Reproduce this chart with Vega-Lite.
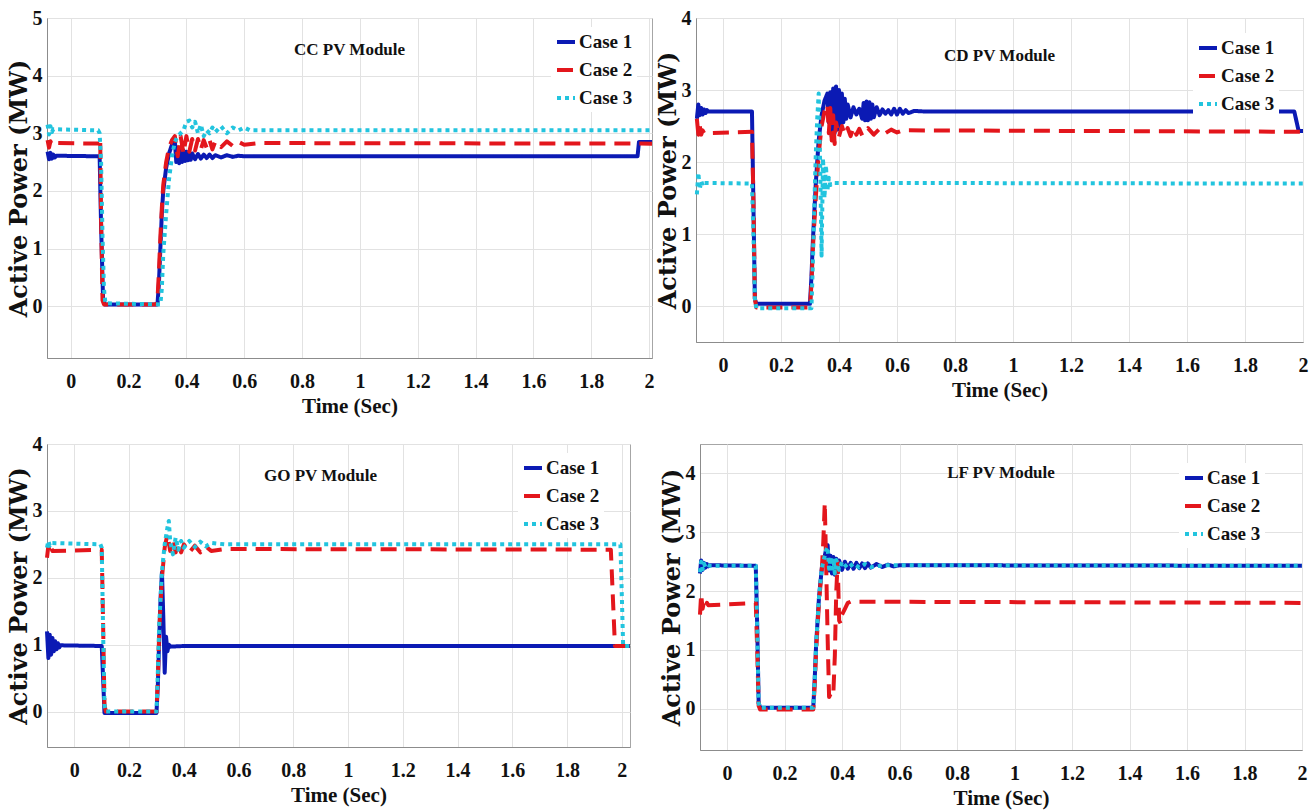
{
  "$schema": "https://vega.github.io/schema/vega-lite/v6.json",
  "padding": {"left": 6, "top": 7, "right": 4, "bottom": 2},
  "background": "white",
  "datasets": {
    "cc": [
      {"t":-0.08,"p":2.68,"c":"Case 1"},{"t":-0.075,"p":2.55,"c":"Case 1"},{"t":-0.07,"p":2.66,"c":"Case 1"},{"t":-0.065,"p":2.56,"c":"Case 1"},{"t":-0.06,"p":2.63,"c":"Case 1"},{"t":-0.055,"p":2.58,"c":"Case 1"},{"t":-0.05,"p":2.61,"c":"Case 1"},{"t":0.1,"p":2.6,"c":"Case 1"},{"t":0.105,"p":1.4,"c":"Case 1"},{"t":0.112,"p":0.1,"c":"Case 1"},{"t":0.118,"p":0.03,"c":"Case 1"},{"t":0.3,"p":0.03,"c":"Case 1"},{"t":0.305,"p":0.4,"c":"Case 1"},{"t":0.31,"p":1.0,"c":"Case 1"},{"t":0.315,"p":1.6,"c":"Case 1"},{"t":0.32,"p":2.0,"c":"Case 1"},{"t":0.33,"p":2.4,"c":"Case 1"},{"t":0.34,"p":2.65,"c":"Case 1"},{"t":0.35,"p":2.8,"c":"Case 1"},{"t":0.36,"p":2.88,"c":"Case 1"},{"t":0.365,"p":2.5,"c":"Case 1"},{"t":0.37,"p":2.75,"c":"Case 1"},{"t":0.375,"p":2.48,"c":"Case 1"},{"t":0.38,"p":2.72,"c":"Case 1"},{"t":0.385,"p":2.5,"c":"Case 1"},{"t":0.39,"p":2.7,"c":"Case 1"},{"t":0.395,"p":2.52,"c":"Case 1"},{"t":0.4,"p":2.68,"c":"Case 1"},{"t":0.405,"p":2.53,"c":"Case 1"},{"t":0.41,"p":2.66,"c":"Case 1"},{"t":0.415,"p":2.54,"c":"Case 1"},{"t":0.42,"p":2.65,"c":"Case 1"},{"t":0.43,"p":2.55,"c":"Case 1"},{"t":0.44,"p":2.64,"c":"Case 1"},{"t":0.45,"p":2.56,"c":"Case 1"},{"t":0.46,"p":2.63,"c":"Case 1"},{"t":0.47,"p":2.57,"c":"Case 1"},{"t":0.48,"p":2.63,"c":"Case 1"},{"t":0.49,"p":2.57,"c":"Case 1"},{"t":0.5,"p":2.62,"c":"Case 1"},{"t":0.52,"p":2.58,"c":"Case 1"},{"t":0.54,"p":2.62,"c":"Case 1"},{"t":0.56,"p":2.59,"c":"Case 1"},{"t":0.58,"p":2.61,"c":"Case 1"},{"t":0.6,"p":2.6,"c":"Case 1"},{"t":1.96,"p":2.6,"c":"Case 1"},{"t":1.965,"p":2.85,"c":"Case 1"},{"t":2.01,"p":2.85,"c":"Case 1"},
      {"t":-0.08,"p":2.88,"c":"Case 2"},{"t":-0.075,"p":2.75,"c":"Case 2"},{"t":-0.07,"p":2.86,"c":"Case 2"},{"t":-0.065,"p":2.8,"c":"Case 2"},{"t":-0.06,"p":2.83,"c":"Case 2"},{"t":0.1,"p":2.82,"c":"Case 2"},{"t":0.102,"p":2.9,"c":"Case 2"},{"t":0.105,"p":1.5,"c":"Case 2"},{"t":0.11,"p":0.1,"c":"Case 2"},{"t":0.115,"p":0.03,"c":"Case 2"},{"t":0.295,"p":0.03,"c":"Case 2"},{"t":0.3,"p":0.1,"c":"Case 2"},{"t":0.305,"p":0.6,"c":"Case 2"},{"t":0.31,"p":1.2,"c":"Case 2"},{"t":0.315,"p":1.7,"c":"Case 2"},{"t":0.32,"p":2.1,"c":"Case 2"},{"t":0.33,"p":2.5,"c":"Case 2"},{"t":0.34,"p":2.75,"c":"Case 2"},{"t":0.35,"p":2.88,"c":"Case 2"},{"t":0.36,"p":2.95,"c":"Case 2"},{"t":0.37,"p":2.6,"c":"Case 2"},{"t":0.38,"p":2.95,"c":"Case 2"},{"t":0.39,"p":2.65,"c":"Case 2"},{"t":0.4,"p":2.95,"c":"Case 2"},{"t":0.41,"p":2.68,"c":"Case 2"},{"t":0.42,"p":2.9,"c":"Case 2"},{"t":0.43,"p":2.7,"c":"Case 2"},{"t":0.44,"p":2.9,"c":"Case 2"},{"t":0.45,"p":2.72,"c":"Case 2"},{"t":0.46,"p":2.88,"c":"Case 2"},{"t":0.47,"p":2.75,"c":"Case 2"},{"t":0.48,"p":2.88,"c":"Case 2"},{"t":0.49,"p":2.72,"c":"Case 2"},{"t":0.5,"p":2.86,"c":"Case 2"},{"t":0.52,"p":2.76,"c":"Case 2"},{"t":0.54,"p":2.86,"c":"Case 2"},{"t":0.56,"p":2.78,"c":"Case 2"},{"t":0.58,"p":2.85,"c":"Case 2"},{"t":0.6,"p":2.8,"c":"Case 2"},{"t":0.65,"p":2.83,"c":"Case 2"},{"t":2.01,"p":2.82,"c":"Case 2"},
      {"t":-0.08,"p":3.15,"c":"Case 3"},{"t":-0.075,"p":2.98,"c":"Case 3"},{"t":-0.07,"p":3.12,"c":"Case 3"},{"t":-0.065,"p":3.02,"c":"Case 3"},{"t":-0.06,"p":3.07,"c":"Case 3"},{"t":0.095,"p":3.05,"c":"Case 3"},{"t":0.1,"p":3.0,"c":"Case 3"},{"t":0.105,"p":2.5,"c":"Case 3"},{"t":0.11,"p":1.2,"c":"Case 3"},{"t":0.115,"p":0.3,"c":"Case 3"},{"t":0.12,"p":0.05,"c":"Case 3"},{"t":0.31,"p":0.03,"c":"Case 3"},{"t":0.315,"p":0.3,"c":"Case 3"},{"t":0.32,"p":0.9,"c":"Case 3"},{"t":0.33,"p":1.6,"c":"Case 3"},{"t":0.34,"p":2.2,"c":"Case 3"},{"t":0.35,"p":2.6,"c":"Case 3"},{"t":0.36,"p":2.85,"c":"Case 3"},{"t":0.37,"p":2.95,"c":"Case 3"},{"t":0.38,"p":3.0,"c":"Case 3"},{"t":0.39,"p":3.05,"c":"Case 3"},{"t":0.4,"p":3.2,"c":"Case 3"},{"t":0.41,"p":3.22,"c":"Case 3"},{"t":0.42,"p":3.1,"c":"Case 3"},{"t":0.43,"p":3.2,"c":"Case 3"},{"t":0.44,"p":3.0,"c":"Case 3"},{"t":0.45,"p":3.15,"c":"Case 3"},{"t":0.46,"p":2.95,"c":"Case 3"},{"t":0.47,"p":3.05,"c":"Case 3"},{"t":0.48,"p":3.0,"c":"Case 3"},{"t":0.49,"p":3.1,"c":"Case 3"},{"t":0.5,"p":3.02,"c":"Case 3"},{"t":0.52,"p":3.12,"c":"Case 3"},{"t":0.54,"p":3.0,"c":"Case 3"},{"t":0.56,"p":3.1,"c":"Case 3"},{"t":0.58,"p":3.05,"c":"Case 3"},{"t":0.6,"p":3.1,"c":"Case 3"},{"t":0.62,"p":3.05,"c":"Case 3"},{"t":2.01,"p":3.05,"c":"Case 3"}
    ],
    "cd": [
      {"t":-0.09,"p":2.6,"c":"Case 1"},{"t":-0.085,"p":2.8,"c":"Case 1"},{"t":-0.08,"p":2.65,"c":"Case 1"},{"t":-0.075,"p":2.75,"c":"Case 1"},{"t":-0.07,"p":2.66,"c":"Case 1"},{"t":-0.065,"p":2.73,"c":"Case 1"},{"t":-0.06,"p":2.68,"c":"Case 1"},{"t":-0.055,"p":2.72,"c":"Case 1"},{"t":-0.05,"p":2.7,"c":"Case 1"},{"t":0.1,"p":2.7,"c":"Case 1"},{"t":0.105,"p":1.4,"c":"Case 1"},{"t":0.11,"p":0.1,"c":"Case 1"},{"t":0.115,"p":0.03,"c":"Case 1"},{"t":0.3,"p":0.03,"c":"Case 1"},{"t":0.305,"p":0.4,"c":"Case 1"},{"t":0.31,"p":0.9,"c":"Case 1"},{"t":0.32,"p":1.7,"c":"Case 1"},{"t":0.33,"p":2.3,"c":"Case 1"},{"t":0.34,"p":2.65,"c":"Case 1"},{"t":0.35,"p":2.85,"c":"Case 1"},{"t":0.36,"p":2.95,"c":"Case 1"},{"t":0.365,"p":2.55,"c":"Case 1"},{"t":0.37,"p":2.97,"c":"Case 1"},{"t":0.375,"p":2.35,"c":"Case 1"},{"t":0.38,"p":3.02,"c":"Case 1"},{"t":0.385,"p":2.4,"c":"Case 1"},{"t":0.39,"p":3.05,"c":"Case 1"},{"t":0.395,"p":2.45,"c":"Case 1"},{"t":0.4,"p":3.0,"c":"Case 1"},{"t":0.405,"p":2.5,"c":"Case 1"},{"t":0.41,"p":2.95,"c":"Case 1"},{"t":0.415,"p":2.55,"c":"Case 1"},{"t":0.42,"p":2.88,"c":"Case 1"},{"t":0.425,"p":2.6,"c":"Case 1"},{"t":0.43,"p":2.8,"c":"Case 1"},{"t":0.44,"p":2.62,"c":"Case 1"},{"t":0.45,"p":2.76,"c":"Case 1"},{"t":0.46,"p":2.66,"c":"Case 1"},{"t":0.47,"p":2.74,"c":"Case 1"},{"t":0.48,"p":2.6,"c":"Case 1"},{"t":0.485,"p":2.82,"c":"Case 1"},{"t":0.49,"p":2.58,"c":"Case 1"},{"t":0.495,"p":2.84,"c":"Case 1"},{"t":0.5,"p":2.58,"c":"Case 1"},{"t":0.505,"p":2.83,"c":"Case 1"},{"t":0.51,"p":2.6,"c":"Case 1"},{"t":0.515,"p":2.8,"c":"Case 1"},{"t":0.52,"p":2.62,"c":"Case 1"},{"t":0.53,"p":2.76,"c":"Case 1"},{"t":0.54,"p":2.65,"c":"Case 1"},{"t":0.55,"p":2.73,"c":"Case 1"},{"t":0.56,"p":2.67,"c":"Case 1"},{"t":0.57,"p":2.72,"c":"Case 1"},{"t":0.58,"p":2.66,"c":"Case 1"},{"t":0.59,"p":2.74,"c":"Case 1"},{"t":0.6,"p":2.66,"c":"Case 1"},{"t":0.61,"p":2.74,"c":"Case 1"},{"t":0.62,"p":2.67,"c":"Case 1"},{"t":0.63,"p":2.72,"c":"Case 1"},{"t":0.64,"p":2.68,"c":"Case 1"},{"t":0.66,"p":2.71,"c":"Case 1"},{"t":0.7,"p":2.7,"c":"Case 1"},{"t":1.97,"p":2.7,"c":"Case 1"},{"t":1.985,"p":2.43,"c":"Case 1"},{"t":2.0,"p":2.43,"c":"Case 1"},
      {"t":-0.09,"p":2.6,"c":"Case 2"},{"t":-0.085,"p":2.38,"c":"Case 2"},{"t":-0.08,"p":2.5,"c":"Case 2"},{"t":-0.075,"p":2.38,"c":"Case 2"},{"t":-0.07,"p":2.44,"c":"Case 2"},{"t":-0.065,"p":2.4,"c":"Case 2"},{"t":0.1,"p":2.42,"c":"Case 2"},{"t":0.105,"p":1.5,"c":"Case 2"},{"t":0.11,"p":0.1,"c":"Case 2"},{"t":0.115,"p":-0.02,"c":"Case 2"},{"t":0.3,"p":-0.02,"c":"Case 2"},{"t":0.305,"p":0.3,"c":"Case 2"},{"t":0.31,"p":0.8,"c":"Case 2"},{"t":0.32,"p":1.5,"c":"Case 2"},{"t":0.33,"p":2.1,"c":"Case 2"},{"t":0.34,"p":2.5,"c":"Case 2"},{"t":0.35,"p":2.7,"c":"Case 2"},{"t":0.36,"p":2.8,"c":"Case 2"},{"t":0.365,"p":2.4,"c":"Case 2"},{"t":0.37,"p":2.75,"c":"Case 2"},{"t":0.375,"p":2.3,"c":"Case 2"},{"t":0.38,"p":2.65,"c":"Case 2"},{"t":0.385,"p":2.25,"c":"Case 2"},{"t":0.39,"p":2.55,"c":"Case 2"},{"t":0.4,"p":2.35,"c":"Case 2"},{"t":0.41,"p":2.5,"c":"Case 2"},{"t":0.42,"p":2.38,"c":"Case 2"},{"t":0.43,"p":2.47,"c":"Case 2"},{"t":0.44,"p":2.36,"c":"Case 2"},{"t":0.45,"p":2.48,"c":"Case 2"},{"t":0.46,"p":2.38,"c":"Case 2"},{"t":0.47,"p":2.46,"c":"Case 2"},{"t":0.48,"p":2.37,"c":"Case 2"},{"t":0.5,"p":2.47,"c":"Case 2"},{"t":0.52,"p":2.38,"c":"Case 2"},{"t":0.54,"p":2.46,"c":"Case 2"},{"t":0.56,"p":2.4,"c":"Case 2"},{"t":0.58,"p":2.45,"c":"Case 2"},{"t":0.6,"p":2.41,"c":"Case 2"},{"t":0.62,"p":2.44,"c":"Case 2"},{"t":2.0,"p":2.42,"c":"Case 2"},
      {"t":-0.09,"p":1.55,"c":"Case 3"},{"t":-0.085,"p":1.85,"c":"Case 3"},{"t":-0.08,"p":1.62,"c":"Case 3"},{"t":-0.075,"p":1.74,"c":"Case 3"},{"t":-0.07,"p":1.67,"c":"Case 3"},{"t":-0.065,"p":1.71,"c":"Case 3"},{"t":0.1,"p":1.7,"c":"Case 3"},{"t":0.105,"p":1.0,"c":"Case 3"},{"t":0.11,"p":0.1,"c":"Case 3"},{"t":0.115,"p":-0.03,"c":"Case 3"},{"t":0.305,"p":-0.03,"c":"Case 3"},{"t":0.31,"p":0.6,"c":"Case 3"},{"t":0.315,"p":1.4,"c":"Case 3"},{"t":0.32,"p":2.1,"c":"Case 3"},{"t":0.325,"p":2.6,"c":"Case 3"},{"t":0.33,"p":2.95,"c":"Case 3"},{"t":0.335,"p":2.0,"c":"Case 3"},{"t":0.34,"p":0.7,"c":"Case 3"},{"t":0.345,"p":2.05,"c":"Case 3"},{"t":0.35,"p":1.5,"c":"Case 3"},{"t":0.355,"p":1.95,"c":"Case 3"},{"t":0.36,"p":1.6,"c":"Case 3"},{"t":0.365,"p":1.78,"c":"Case 3"},{"t":0.37,"p":1.68,"c":"Case 3"},{"t":0.38,"p":1.71,"c":"Case 3"},{"t":2.0,"p":1.7,"c":"Case 3"}
    ],
    "go": [
      {"t":-0.1,"p":1.2,"c":"Case 1"},{"t":-0.095,"p":0.8,"c":"Case 1"},{"t":-0.09,"p":1.15,"c":"Case 1"},{"t":-0.085,"p":0.85,"c":"Case 1"},{"t":-0.08,"p":1.1,"c":"Case 1"},{"t":-0.075,"p":0.9,"c":"Case 1"},{"t":-0.07,"p":1.05,"c":"Case 1"},{"t":-0.065,"p":0.93,"c":"Case 1"},{"t":-0.06,"p":1.02,"c":"Case 1"},{"t":-0.055,"p":0.96,"c":"Case 1"},{"t":-0.05,"p":0.99,"c":"Case 1"},{"t":0.1,"p":0.98,"c":"Case 1"},{"t":0.105,"p":0.5,"c":"Case 1"},{"t":0.11,"p":-0.02,"c":"Case 1"},{"t":0.3,"p":-0.02,"c":"Case 1"},{"t":0.305,"p":0.4,"c":"Case 1"},{"t":0.31,"p":1.1,"c":"Case 1"},{"t":0.315,"p":1.7,"c":"Case 1"},{"t":0.32,"p":2.08,"c":"Case 1"},{"t":0.325,"p":1.4,"c":"Case 1"},{"t":0.33,"p":0.58,"c":"Case 1"},{"t":0.335,"p":1.12,"c":"Case 1"},{"t":0.34,"p":0.9,"c":"Case 1"},{"t":0.345,"p":1.0,"c":"Case 1"},{"t":0.35,"p":0.97,"c":"Case 1"},{"t":0.4,"p":0.98,"c":"Case 1"},{"t":2.03,"p":0.98,"c":"Case 1"},
      {"t":-0.1,"p":2.3,"c":"Case 2"},{"t":-0.095,"p":2.48,"c":"Case 2"},{"t":-0.09,"p":2.38,"c":"Case 2"},{"t":-0.085,"p":2.45,"c":"Case 2"},{"t":-0.08,"p":2.4,"c":"Case 2"},{"t":0.1,"p":2.42,"c":"Case 2"},{"t":0.105,"p":1.3,"c":"Case 2"},{"t":0.11,"p":0.1,"c":"Case 2"},{"t":0.115,"p":0.0,"c":"Case 2"},{"t":0.3,"p":0.0,"c":"Case 2"},{"t":0.305,"p":0.5,"c":"Case 2"},{"t":0.31,"p":1.2,"c":"Case 2"},{"t":0.32,"p":2.0,"c":"Case 2"},{"t":0.33,"p":2.45,"c":"Case 2"},{"t":0.34,"p":2.65,"c":"Case 2"},{"t":0.35,"p":2.4,"c":"Case 2"},{"t":0.36,"p":2.58,"c":"Case 2"},{"t":0.37,"p":2.38,"c":"Case 2"},{"t":0.38,"p":2.52,"c":"Case 2"},{"t":0.39,"p":2.38,"c":"Case 2"},{"t":0.4,"p":2.5,"c":"Case 2"},{"t":0.42,"p":2.38,"c":"Case 2"},{"t":0.44,"p":2.48,"c":"Case 2"},{"t":0.46,"p":2.38,"c":"Case 2"},{"t":0.48,"p":2.47,"c":"Case 2"},{"t":0.5,"p":2.4,"c":"Case 2"},{"t":0.55,"p":2.43,"c":"Case 2"},{"t":1.96,"p":2.42,"c":"Case 2"},{"t":1.975,"p":0.98,"c":"Case 2"},{"t":2.03,"p":0.98,"c":"Case 2"},
      {"t":-0.1,"p":2.45,"c":"Case 3"},{"t":-0.095,"p":2.55,"c":"Case 3"},{"t":-0.09,"p":2.48,"c":"Case 3"},{"t":-0.085,"p":2.52,"c":"Case 3"},{"t":0.095,"p":2.5,"c":"Case 3"},{"t":0.1,"p":2.45,"c":"Case 3"},{"t":0.105,"p":1.2,"c":"Case 3"},{"t":0.11,"p":0.1,"c":"Case 3"},{"t":0.115,"p":0.0,"c":"Case 3"},{"t":0.3,"p":0.0,"c":"Case 3"},{"t":0.305,"p":0.6,"c":"Case 3"},{"t":0.31,"p":1.3,"c":"Case 3"},{"t":0.32,"p":2.1,"c":"Case 3"},{"t":0.33,"p":2.5,"c":"Case 3"},{"t":0.34,"p":2.75,"c":"Case 3"},{"t":0.345,"p":2.85,"c":"Case 3"},{"t":0.35,"p":2.55,"c":"Case 3"},{"t":0.36,"p":2.35,"c":"Case 3"},{"t":0.37,"p":2.6,"c":"Case 3"},{"t":0.38,"p":2.42,"c":"Case 3"},{"t":0.39,"p":2.55,"c":"Case 3"},{"t":0.4,"p":2.45,"c":"Case 3"},{"t":0.42,"p":2.55,"c":"Case 3"},{"t":0.44,"p":2.46,"c":"Case 3"},{"t":0.46,"p":2.54,"c":"Case 3"},{"t":0.48,"p":2.47,"c":"Case 3"},{"t":0.5,"p":2.52,"c":"Case 3"},{"t":0.55,"p":2.5,"c":"Case 3"},{"t":1.995,"p":2.5,"c":"Case 3"},{"t":2.005,"p":0.98,"c":"Case 3"},{"t":2.03,"p":0.98,"c":"Case 3"}
    ],
    "lf": [
      {"t":-0.094,"p":2.3,"c":"Case 1"},{"t":-0.09,"p":2.52,"c":"Case 1"},{"t":-0.085,"p":2.36,"c":"Case 1"},{"t":-0.08,"p":2.48,"c":"Case 1"},{"t":-0.075,"p":2.4,"c":"Case 1"},{"t":-0.07,"p":2.46,"c":"Case 1"},{"t":-0.065,"p":2.42,"c":"Case 1"},{"t":-0.06,"p":2.44,"c":"Case 1"},{"t":0.1,"p":2.43,"c":"Case 1"},{"t":0.105,"p":1.4,"c":"Case 1"},{"t":0.11,"p":0.1,"c":"Case 1"},{"t":0.115,"p":0.02,"c":"Case 1"},{"t":0.3,"p":0.02,"c":"Case 1"},{"t":0.305,"p":0.5,"c":"Case 1"},{"t":0.31,"p":1.1,"c":"Case 1"},{"t":0.32,"p":1.9,"c":"Case 1"},{"t":0.33,"p":2.4,"c":"Case 1"},{"t":0.34,"p":2.6,"c":"Case 1"},{"t":0.345,"p":2.72,"c":"Case 1"},{"t":0.35,"p":2.78,"c":"Case 1"},{"t":0.355,"p":2.35,"c":"Case 1"},{"t":0.36,"p":2.6,"c":"Case 1"},{"t":0.365,"p":2.3,"c":"Case 1"},{"t":0.37,"p":2.58,"c":"Case 1"},{"t":0.375,"p":2.28,"c":"Case 1"},{"t":0.38,"p":2.55,"c":"Case 1"},{"t":0.385,"p":2.32,"c":"Case 1"},{"t":0.39,"p":2.52,"c":"Case 1"},{"t":0.4,"p":2.36,"c":"Case 1"},{"t":0.41,"p":2.5,"c":"Case 1"},{"t":0.42,"p":2.38,"c":"Case 1"},{"t":0.43,"p":2.48,"c":"Case 1"},{"t":0.44,"p":2.38,"c":"Case 1"},{"t":0.45,"p":2.48,"c":"Case 1"},{"t":0.46,"p":2.39,"c":"Case 1"},{"t":0.47,"p":2.47,"c":"Case 1"},{"t":0.48,"p":2.39,"c":"Case 1"},{"t":0.49,"p":2.47,"c":"Case 1"},{"t":0.5,"p":2.4,"c":"Case 1"},{"t":0.52,"p":2.46,"c":"Case 1"},{"t":0.54,"p":2.41,"c":"Case 1"},{"t":0.56,"p":2.45,"c":"Case 1"},{"t":0.58,"p":2.42,"c":"Case 1"},{"t":0.6,"p":2.44,"c":"Case 1"},{"t":2.0,"p":2.43,"c":"Case 1"},
      {"t":-0.094,"p":1.6,"c":"Case 2"},{"t":-0.09,"p":1.95,"c":"Case 2"},{"t":-0.085,"p":1.7,"c":"Case 2"},{"t":-0.08,"p":1.82,"c":"Case 2"},{"t":-0.075,"p":1.74,"c":"Case 2"},{"t":-0.07,"p":1.8,"c":"Case 2"},{"t":-0.065,"p":1.76,"c":"Case 2"},{"t":0.1,"p":1.8,"c":"Case 2"},{"t":0.105,"p":1.0,"c":"Case 2"},{"t":0.11,"p":0.05,"c":"Case 2"},{"t":0.115,"p":-0.01,"c":"Case 2"},{"t":0.3,"p":-0.01,"c":"Case 2"},{"t":0.305,"p":0.4,"c":"Case 2"},{"t":0.31,"p":1.0,"c":"Case 2"},{"t":0.32,"p":1.8,"c":"Case 2"},{"t":0.33,"p":2.4,"c":"Case 2"},{"t":0.335,"p":2.85,"c":"Case 2"},{"t":0.34,"p":3.5,"c":"Case 2"},{"t":0.345,"p":2.4,"c":"Case 2"},{"t":0.35,"p":1.2,"c":"Case 2"},{"t":0.355,"p":0.2,"c":"Case 2"},{"t":0.36,"p":0.25,"c":"Case 2"},{"t":0.365,"p":0.32,"c":"Case 2"},{"t":0.37,"p":0.28,"c":"Case 2"},{"t":0.375,"p":0.9,"c":"Case 2"},{"t":0.38,"p":2.0,"c":"Case 2"},{"t":0.385,"p":2.5,"c":"Case 2"},{"t":0.39,"p":1.5,"c":"Case 2"},{"t":0.395,"p":1.45,"c":"Case 2"},{"t":0.4,"p":1.6,"c":"Case 2"},{"t":0.41,"p":1.7,"c":"Case 2"},{"t":0.42,"p":1.8,"c":"Case 2"},{"t":0.43,"p":1.82,"c":"Case 2"},{"t":2.0,"p":1.8,"c":"Case 2"},
      {"t":-0.094,"p":2.32,"c":"Case 3"},{"t":-0.09,"p":2.5,"c":"Case 3"},{"t":-0.085,"p":2.37,"c":"Case 3"},{"t":-0.08,"p":2.47,"c":"Case 3"},{"t":-0.075,"p":2.41,"c":"Case 3"},{"t":-0.07,"p":2.45,"c":"Case 3"},{"t":-0.06,"p":2.43,"c":"Case 3"},{"t":0.1,"p":2.43,"c":"Case 3"},{"t":0.105,"p":1.4,"c":"Case 3"},{"t":0.11,"p":0.1,"c":"Case 3"},{"t":0.115,"p":0.02,"c":"Case 3"},{"t":0.3,"p":0.02,"c":"Case 3"},{"t":0.305,"p":0.5,"c":"Case 3"},{"t":0.31,"p":1.1,"c":"Case 3"},{"t":0.32,"p":1.9,"c":"Case 3"},{"t":0.33,"p":2.4,"c":"Case 3"},{"t":0.34,"p":2.6,"c":"Case 3"},{"t":0.345,"p":2.7,"c":"Case 3"},{"t":0.35,"p":2.75,"c":"Case 3"},{"t":0.355,"p":2.38,"c":"Case 3"},{"t":0.36,"p":2.58,"c":"Case 3"},{"t":0.365,"p":2.32,"c":"Case 3"},{"t":0.37,"p":2.56,"c":"Case 3"},{"t":0.375,"p":2.3,"c":"Case 3"},{"t":0.38,"p":2.53,"c":"Case 3"},{"t":0.39,"p":2.36,"c":"Case 3"},{"t":0.4,"p":2.5,"c":"Case 3"},{"t":0.42,"p":2.39,"c":"Case 3"},{"t":0.44,"p":2.47,"c":"Case 3"},{"t":0.46,"p":2.4,"c":"Case 3"},{"t":0.48,"p":2.46,"c":"Case 3"},{"t":0.5,"p":2.41,"c":"Case 3"},{"t":0.55,"p":2.44,"c":"Case 3"},{"t":2.0,"p":2.43,"c":"Case 3"}
    ]
  },
  "vconcat": [
    {
      "hconcat": [
        {
          "data": {"name": "cc"},
          "width": 605, "height": 340,
          "title": {"text": "CC PV Module", "offset": -51, "dx": 0},
          "mark": {"type": "line", "strokeWidth": 4, "strokeCap": "butt", "strokeJoin": "round"},
          "encoding": {
            "x": {"field": "t", "type": "quantitative", "scale": {"domain": [-0.082, 2.01], "nice": false, "zero": false}, "axis": {"values": [0, 0.2, 0.4, 0.6, 0.8, 1, 1.2, 1.4, 1.6, 1.8, 2], "format": "~g", "title": "Time (Sec)"}},
            "y": {"field": "p", "type": "quantitative", "scale": {"domain": [-0.9, 5], "nice": false, "zero": false}, "axis": {"values": [0, 1, 2, 3, 4, 5], "title": "Active Power (MW)"}},
            "color": {"field": "c", "type": "nominal", "scale": {"domain": ["Case 1", "Case 2", "Case 3"], "range": ["#0b1ab4", "#e3161c", "#22c4de"]}, "legend": {"title": null, "orient": "none", "legendX": 504, "legendY": 9}},
            "strokeDash": {"field": "c", "type": "nominal", "scale": {"domain": ["Case 1", "Case 2", "Case 3"], "range": [[1, 0], [16, 9], [4, 4]]}, "legend": {"title": null, "orient": "none", "legendX": 504, "legendY": 9}}
          }
        },
        {
          "data": {"name": "cd"},
          "width": 607, "height": 324,
          "title": {"text": "CD PV Module", "offset": -57, "dx": 0},
          "mark": {"type": "line", "strokeWidth": 4, "strokeCap": "butt", "strokeJoin": "round"},
          "encoding": {
            "x": {"field": "t", "type": "quantitative", "scale": {"domain": [-0.093, 2.0], "nice": false, "zero": false}, "axis": {"values": [0, 0.2, 0.4, 0.6, 0.8, 1, 1.2, 1.4, 1.6, 1.8, 2], "format": "~g", "title": "Time (Sec)"}},
            "y": {"field": "p", "type": "quantitative", "scale": {"domain": [-0.5, 4], "nice": false, "zero": false}, "axis": {"values": [0, 1, 2, 3, 4], "title": "Active Power (MW)"}},
            "color": {"field": "c", "type": "nominal", "scale": {"domain": ["Case 1", "Case 2", "Case 3"], "range": ["#0b1ab4", "#e3161c", "#22c4de"]}, "legend": {"title": null, "orient": "none", "legendX": 497, "legendY": 15}},
            "strokeDash": {"field": "c", "type": "nominal", "scale": {"domain": ["Case 1", "Case 2", "Case 3"], "range": [[1, 0], [16, 9], [4, 4]]}, "legend": {"title": null, "orient": "none", "legendX": 497, "legendY": 15}}
          }
        }
      ],
      "spacing": 0,
      "resolve": {"scale": {"x": "independent", "y": "independent", "color": "independent", "strokeDash": "independent"}, "legend": {"color": "independent", "strokeDash": "independent"}}
    },
    {
      "hconcat": [
        {
          "data": {"name": "go"},
          "width": 583, "height": 303,
          "title": {"text": "GO PV Module", "offset": -51, "dx": -18},
          "mark": {"type": "line", "strokeWidth": 4, "strokeCap": "butt", "strokeJoin": "round"},
          "encoding": {
            "x": {"field": "t", "type": "quantitative", "scale": {"domain": [-0.1, 2.03], "nice": false, "zero": false}, "axis": {"values": [0, 0.2, 0.4, 0.6, 0.8, 1, 1.2, 1.4, 1.6, 1.8, 2], "format": "~g", "title": "Time (Sec)"}},
            "y": {"field": "p", "type": "quantitative", "scale": {"domain": [-0.53, 4], "nice": false, "zero": false}, "axis": {"values": [0, 1, 2, 3, 4], "title": "Active Power (MW)"}},
            "color": {"field": "c", "type": "nominal", "scale": {"domain": ["Case 1", "Case 2", "Case 3"], "range": ["#0b1ab4", "#e3161c", "#22c4de"]}, "legend": {"title": null, "orient": "none", "legendX": 471, "legendY": 9}},
            "strokeDash": {"field": "c", "type": "nominal", "scale": {"domain": ["Case 1", "Case 2", "Case 3"], "range": [[1, 0], [16, 9], [4, 4]]}, "legend": {"title": null, "orient": "none", "legendX": 471, "legendY": 9}}
          }
        },
        {
          "data": {"name": "lf"},
          "width": 602, "height": 306,
          "title": {"text": "LF PV Module", "offset": -38, "dx": 0},
          "mark": {"type": "line", "strokeWidth": 4, "strokeCap": "butt", "strokeJoin": "round"},
          "encoding": {
            "x": {"field": "t", "type": "quantitative", "scale": {"domain": [-0.094, 2.0], "nice": false, "zero": false}, "axis": {"values": [0, 0.2, 0.4, 0.6, 0.8, 1, 1.2, 1.4, 1.6, 1.8, 2], "format": "~g", "title": "Time (Sec)"}},
            "y": {"field": "p", "type": "quantitative", "scale": {"domain": [-0.7, 4.5], "nice": false, "zero": false}, "axis": {"values": [0, 1, 2, 3, 4], "title": "Active Power (MW)"}},
            "color": {"field": "c", "type": "nominal", "scale": {"domain": ["Case 1", "Case 2", "Case 3"], "range": ["#0b1ab4", "#e3161c", "#22c4de"]}, "legend": {"title": null, "orient": "none", "legendX": 479, "legendY": 19}},
            "strokeDash": {"field": "c", "type": "nominal", "scale": {"domain": ["Case 1", "Case 2", "Case 3"], "range": [[1, 0], [16, 9], [4, 4]]}, "legend": {"title": null, "orient": "none", "legendX": 479, "legendY": 19}}
          }
        }
      ],
      "spacing": 26,
      "resolve": {"scale": {"x": "independent", "y": "independent", "color": "independent", "strokeDash": "independent"}, "legend": {"color": "independent", "strokeDash": "independent"}}
    }
  ],
  "spacing": 16,
  "resolve": {"scale": {"x": "independent", "y": "independent", "color": "independent", "strokeDash": "independent"}, "legend": {"color": "independent", "strokeDash": "independent"}},
  "config": {
    "view": {"stroke": "#a6a6a6", "strokeWidth": 1},
    "axis": {
      "labelFont": "Liberation Serif, Tinos, Times New Roman, serif", "labelFontSize": 20, "labelFontWeight": "bold", "labelColor": "#111111",
      "titleFont": "Liberation Serif, Tinos, Times New Roman, serif", "titleFontSize": 21, "titleFontWeight": "bold", "titleColor": "#111111",
      "gridColor": "#e2e2e2", "gridWidth": 1, "ticks": false, "domainColor": "#8c8c8c", "labelFlush": false, "labelOverlap": false
    },
    "axisX": {"labelPadding": 13, "titlePadding": 4},
    "axisY": {"titleFont": "DejaVu Serif, serif", "titleFontSize": 24, "titlePadding": 1, "labelPadding": 5},
    "title": {"font": "Liberation Serif, Tinos, Times New Roman, serif", "fontSize": 17, "fontWeight": "bold", "color": "#111111", "frame": "group", "anchor": "middle"},
    "legend": {
      "labelFont": "Liberation Serif, Tinos, Times New Roman, serif", "labelFontSize": 19, "labelFontWeight": "bold", "labelColor": "#111111",
      "symbolType": "stroke", "symbolSize": 324, "symbolStrokeWidth": 4, "labelOffset": 2, "rowPadding": 7,
      "padding": 4, "fillColor": "white", "strokeColor": null
    }
  }
}
